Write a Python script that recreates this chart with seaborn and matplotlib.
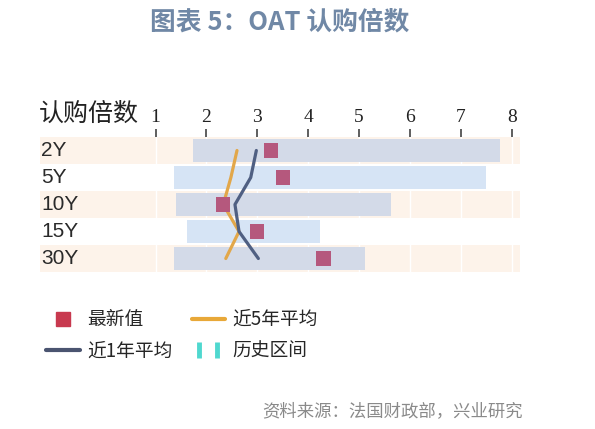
import numpy as np
import pandas as pd
import matplotlib.pyplot as plt
import seaborn as sns
from matplotlib.lines import Line2D
from matplotlib.legend_handler import HandlerTuple

# datos
plazos = ["2Y", "5Y", "10Y", "15Y", "30Y"]
hist_min = [1.73, 1.36, 1.41, 1.61, 1.37]
hist_max = [7.76, 7.50, 5.62, 4.24, 5.12]
ultimo = [3.27, 3.50, 2.33, 3.00, 4.30]
prom_5a = [2.60, 2.48, 2.33, 2.64, 2.38]
prom_1a = [2.98, 2.87, 2.56, 2.64, 3.02]
ticks_x = [1, 2, 3, 4, 5, 6, 7, 8]

sns.set_style("white")
plt.rcParams['font.family'] = ['Noto Sans CJK SC', 'DejaVu Sans']

df = pd.DataFrame({"plazo": plazos, "pos": np.arange(len(plazos)),
                   "hmin": hist_min, "hmax": hist_max, "ultimo": ultimo,
                   "p5": prom_5a, "p1": prom_1a})

fig = plt.figure(figsize=(5.95, 4.29), dpi=100)
ax = fig.add_axes([40 / 595, 1 - 272 / 429, 480 / 595, 135 / 429])

# bandas de fondo
for i in df["pos"]:
    if i % 2 == 0:
        ax.axhspan(i - 0.5, i + 0.5, color="#fdf3ea", lw=0, zorder=0)
for t in ticks_x:
    ax.axvline(t, color="white", lw=1, zorder=0.5)

# rango historico
col_bar = ["#d3dae8" if i % 2 == 0 else "#d6e4f5" for i in df["pos"]]
ax.barh(df["pos"], df["hmax"] - df["hmin"], left=df["hmin"], height=0.84,
        color=col_bar, edgecolor="none", zorder=1)

sns.lineplot(data=df, x="p5", y="pos", sort=False, orient="y", color="#e2a74a",
             lw=2.3, ax=ax, zorder=2)
sns.lineplot(data=df, x="p1", y="pos", sort=False, orient="y", color="#4f5f82",
             lw=2.3, ax=ax, zorder=3)
sns.scatterplot(data=df, x="ultimo", y="pos", marker="s", s=105, color="#b5587d",
                edgecolor="none", ax=ax, zorder=4)

ax.set_xlim(-1.27, 8.16)
ax.set_ylim(len(plazos) - 0.5, -0.5)
ax.set_xticks(ticks_x)
ax.set_xticklabels([str(t) for t in ticks_x], family="Liberation Serif", fontsize=14,
                   color="#222222")
ax.xaxis.tick_top()
ax.tick_params(axis="x", direction="out", length=6, width=1.1, color="#333333", pad=2)
ax.set_yticks([])
ax.set_xlabel("")
ax.set_ylabel("")
for s in ax.spines.values():
    s.set_visible(False)

for i, p in zip(df["pos"], df["plazo"]):
    ax.text(-1.25, i, p, ha="left", va="center", fontsize=15, color="#2a2a2a",
            family=["Liberation Sans", "DejaVu Sans"])

fig.text(39 / 595, 1 - 114 / 429, "认购倍数", ha="left", va="center", fontsize=18,
         color="#222222")

fig.text(280 / 595, 1 - 22 / 429, "图表 5：OAT 认购倍数", ha="center", va="center",
         fontsize=18.5, fontweight="bold", color="#7088a6")

h_ult = Line2D([], [], marker="s", ls="none", color="#c8394f", markersize=10)
h_p5 = Line2D([], [], color="#e8a838", lw=3)
h_p1 = Line2D([], [], color="#4a5470", lw=3)
h_b1 = Line2D([], [], marker="|", ls="none", color="#4fd8cf", markersize=11, mew=3.5)
h_b2 = Line2D([], [], marker="|", ls="none", color="#4fd8cf", markersize=11, mew=3.5)
fig.legend([h_ult, h_p1, h_p5, (h_b1, h_b2)], ["最新值", "近1年平均", "近5年平均", "历史区间"],
           ncol=2, loc="upper left", bbox_to_anchor=(33 / 595, 1 - 296 / 429),
           frameon=False, fontsize=13.5, handlelength=1.8, handletextpad=0.4,
           columnspacing=1.0, labelspacing=0.55, borderpad=0.2,
           handler_map={tuple: HandlerTuple(ndivide=None, pad=0.1)})

fig.text(262 / 595, 1 - 411 / 429, "资料来源：法国财政部，兴业研究", ha="left", va="center",
         fontsize=12.5, color="#8a8a8a")

fig.savefig("out.png", dpi=100)
